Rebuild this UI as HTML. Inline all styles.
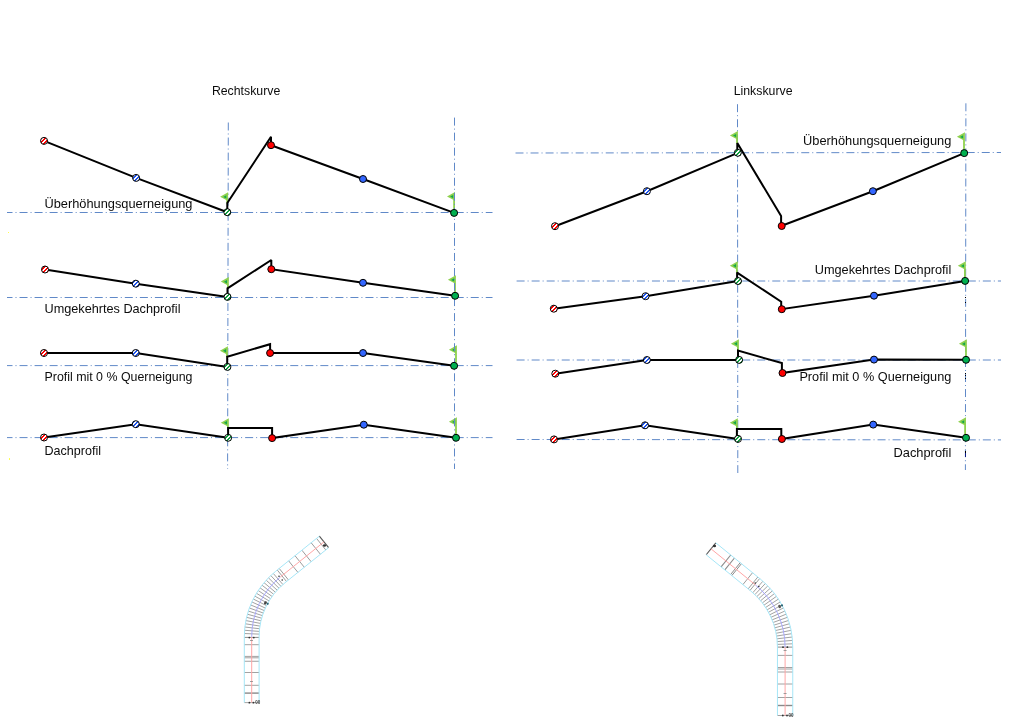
<!DOCTYPE html>
<html><head><meta charset="utf-8"><title>Querneigung</title>
<style>html,body{margin:0;padding:0;background:#fff;width:1024px;height:720px;overflow:hidden}svg{display:block;will-change:transform}</style>
</head><body>
<svg width="1024" height="720" viewBox="0 0 1024 720">
<defs>
<pattern id="str" patternUnits="userSpaceOnUse" width="4" height="4"><rect width="4" height="4" fill="#fff"/><path d="M2,0h2v1h-2z M1,1h2v1h-2z M0,2h2v1h-2z M0,3h1v1h-1z M3,3h1v1h-1z" fill="#ff0000"/></pattern>
<pattern id="stb" patternUnits="userSpaceOnUse" width="4" height="4"><rect width="4" height="4" fill="#fff"/><path d="M2,0h2v1h-2z M1,1h2v1h-2z M0,2h2v1h-2z M0,3h1v1h-1z M3,3h1v1h-1z" fill="#1f55f0"/></pattern>
<pattern id="stg" patternUnits="userSpaceOnUse" width="4" height="4"><rect width="4" height="4" fill="#fff"/><path d="M2,0h2v1h-2z M1,1h2v1h-2z M0,2h2v1h-2z M0,3h1v1h-1z M3,3h1v1h-1z" fill="#10a040"/></pattern>
</defs>
<g><line x1="244.29999999999998" y1="637.4" x2="259.09999999999997" y2="637.4" stroke="#8a8a8a" stroke-width="1"/>
<line x1="244.29999999999998" y1="644.7" x2="259.09999999999997" y2="644.7" stroke="#8a8a8a" stroke-width="0.8"/>
<line x1="244.29999999999998" y1="656.4" x2="259.09999999999997" y2="656.4" stroke="#8a8a8a" stroke-width="0.8"/>
<line x1="244.29999999999998" y1="657.8" x2="259.09999999999997" y2="657.8" stroke="#8a8a8a" stroke-width="0.8"/>
<line x1="244.29999999999998" y1="661.25" x2="259.09999999999997" y2="661.25" stroke="#8a8a8a" stroke-width="0.8"/>
<line x1="244.29999999999998" y1="672.5" x2="259.09999999999997" y2="672.5" stroke="#8a8a8a" stroke-width="0.8"/>
<line x1="244.29999999999998" y1="685.3" x2="259.09999999999997" y2="685.3" stroke="#8a8a8a" stroke-width="0.8"/>
<line x1="244.29999999999998" y1="693.1" x2="259.09999999999997" y2="693.1" stroke="#8a8a8a" stroke-width="1.4"/>
<line x1="259.15" y1="634.11" x2="244.36" y2="633.53" stroke="#8a8a8a" stroke-width="0.8"/>
<line x1="259.31" y1="631.42" x2="244.55" y2="630.27" stroke="#8a8a8a" stroke-width="0.8"/>
<line x1="259.57" y1="628.74" x2="244.87" y2="627.02" stroke="#8a8a8a" stroke-width="0.8"/>
<line x1="259.94" y1="626.07" x2="245.31" y2="623.78" stroke="#8a8a8a" stroke-width="0.8"/>
<line x1="260.40" y1="623.42" x2="245.88" y2="620.57" stroke="#8a8a8a" stroke-width="0.8"/>
<line x1="260.97" y1="620.79" x2="246.57" y2="617.37" stroke="#8a8a8a" stroke-width="0.8"/>
<line x1="261.65" y1="618.18" x2="247.39" y2="614.21" stroke="#8a8a8a" stroke-width="0.8"/>
<line x1="262.42" y1="615.61" x2="248.33" y2="611.08" stroke="#8a8a8a" stroke-width="0.8"/>
<line x1="263.29" y1="613.06" x2="249.39" y2="607.99" stroke="#8a8a8a" stroke-width="0.8"/>
<line x1="264.27" y1="610.55" x2="250.57" y2="604.94" stroke="#8a8a8a" stroke-width="0.8"/>
<line x1="265.33" y1="608.08" x2="251.86" y2="601.94" stroke="#8a8a8a" stroke-width="0.8"/>
<line x1="266.50" y1="605.65" x2="253.28" y2="599.00" stroke="#8a8a8a" stroke-width="0.8"/>
<line x1="267.75" y1="603.27" x2="254.80" y2="596.11" stroke="#8a8a8a" stroke-width="0.8"/>
<line x1="269.10" y1="600.94" x2="256.44" y2="593.28" stroke="#8a8a8a" stroke-width="0.8"/>
<line x1="270.54" y1="598.66" x2="258.18" y2="590.52" stroke="#8a8a8a" stroke-width="0.8"/>
<line x1="272.06" y1="596.44" x2="260.03" y2="587.82" stroke="#8a8a8a" stroke-width="0.8"/>
<line x1="273.67" y1="594.28" x2="261.99" y2="585.20" stroke="#8a8a8a" stroke-width="0.8"/>
<line x1="275.37" y1="592.19" x2="264.04" y2="582.66" stroke="#8a8a8a" stroke-width="0.8"/>
<line x1="277.14" y1="590.16" x2="266.19" y2="580.20" stroke="#8a8a8a" stroke-width="0.8"/>
<line x1="278.99" y1="588.21" x2="268.44" y2="577.83" stroke="#8a8a8a" stroke-width="0.8"/>
<line x1="280.91" y1="586.33" x2="270.77" y2="575.55" stroke="#8a8a8a" stroke-width="0.8"/>
<line x1="282.91" y1="584.52" x2="273.20" y2="573.35" stroke="#8a8a8a" stroke-width="0.8"/>
<line x1="277.26" y1="570.00" x2="286.54" y2="581.54" stroke="#8a8a8a" stroke-width="0.85"/>
<line x1="279.21" y1="568.44" x2="288.48" y2="579.97" stroke="#8a8a8a" stroke-width="0.85"/>
<line x1="288.64" y1="560.86" x2="297.91" y2="572.39" stroke="#8a8a8a" stroke-width="0.85"/>
<line x1="295.03" y1="555.72" x2="304.30" y2="567.25" stroke="#8a8a8a" stroke-width="0.85"/>
<line x1="301.89" y1="550.20" x2="311.16" y2="561.74" stroke="#8a8a8a" stroke-width="0.85"/>
<line x1="311.16" y1="542.75" x2="320.44" y2="554.28" stroke="#8a8a8a" stroke-width="0.85"/>
<line x1="316.54" y1="538.42" x2="325.81" y2="549.96" stroke="#8a8a8a" stroke-width="0.85"/>
<line x1="319.35" y1="536.17" x2="328.62" y2="547.70" stroke="#555" stroke-width="1.1"/>
<line x1="244.29999999999998" y1="702.6" x2="259.09999999999997" y2="702.6" stroke="#8a8a8a" stroke-width="0.8"/>
<path d="M244.30,702.6 L244.30,636.8 A84.10,84.10 0 0 1 275.70,571.26 L319.35,536.17" fill="none" stroke="#a6e6f7" stroke-width="1"/>
<path d="M259.10,702.6 L259.10,636.8 A69.30,69.30 0 0 1 284.98,582.79 L328.62,547.70" fill="none" stroke="#a6e6f7" stroke-width="1"/>
<path d="M251.7,702.6 L251.7,636.8" stroke="#ffa6a6" stroke-width="1" fill="none"/>
<path d="M251.7,636.8 A76.7,76.7 0 0 1 280.34,577.02" stroke="#a4a4ff" stroke-width="0.9" fill="none"/>
<path d="M280.34,577.02 L323.98,541.93" stroke="#ffa6a6" stroke-width="1" fill="none"/>
<line x1="777.45" y1="647.1" x2="792.75" y2="647.1" stroke="#8a8a8a" stroke-width="1"/>
<line x1="777.45" y1="655.4" x2="792.75" y2="655.4" stroke="#8a8a8a" stroke-width="0.8"/>
<line x1="777.45" y1="667.5" x2="792.75" y2="667.5" stroke="#8a8a8a" stroke-width="0.8"/>
<line x1="777.45" y1="669" x2="792.75" y2="669" stroke="#8a8a8a" stroke-width="0.8"/>
<line x1="777.45" y1="672" x2="792.75" y2="672" stroke="#8a8a8a" stroke-width="0.8"/>
<line x1="777.45" y1="684" x2="792.75" y2="684" stroke="#8a8a8a" stroke-width="0.8"/>
<line x1="777.45" y1="697.5" x2="792.75" y2="697.5" stroke="#8a8a8a" stroke-width="0.8"/>
<line x1="777.45" y1="705.5" x2="792.75" y2="705.5" stroke="#8a8a8a" stroke-width="1.4"/>
<line x1="777.40" y1="644.40" x2="792.68" y2="643.81" stroke="#8a8a8a" stroke-width="0.8"/>
<line x1="777.23" y1="641.60" x2="792.49" y2="640.42" stroke="#8a8a8a" stroke-width="0.8"/>
<line x1="776.96" y1="638.81" x2="792.16" y2="637.04" stroke="#8a8a8a" stroke-width="0.8"/>
<line x1="776.59" y1="636.04" x2="791.70" y2="633.68" stroke="#8a8a8a" stroke-width="0.8"/>
<line x1="776.10" y1="633.28" x2="791.12" y2="630.34" stroke="#8a8a8a" stroke-width="0.8"/>
<line x1="775.51" y1="630.54" x2="790.40" y2="627.02" stroke="#8a8a8a" stroke-width="0.8"/>
<line x1="774.81" y1="627.82" x2="789.56" y2="623.74" stroke="#8a8a8a" stroke-width="0.8"/>
<line x1="774.01" y1="625.14" x2="788.59" y2="620.48" stroke="#8a8a8a" stroke-width="0.8"/>
<line x1="773.11" y1="622.48" x2="787.50" y2="617.27" stroke="#8a8a8a" stroke-width="0.8"/>
<line x1="772.11" y1="619.87" x2="786.28" y2="614.11" stroke="#8a8a8a" stroke-width="0.8"/>
<line x1="771.00" y1="617.29" x2="784.94" y2="610.99" stroke="#8a8a8a" stroke-width="0.8"/>
<line x1="769.80" y1="614.76" x2="783.48" y2="607.92" stroke="#8a8a8a" stroke-width="0.8"/>
<line x1="768.49" y1="612.28" x2="781.91" y2="604.92" stroke="#8a8a8a" stroke-width="0.8"/>
<line x1="767.10" y1="609.85" x2="780.22" y2="601.98" stroke="#8a8a8a" stroke-width="0.8"/>
<line x1="765.61" y1="607.48" x2="778.41" y2="599.10" stroke="#8a8a8a" stroke-width="0.8"/>
<line x1="764.03" y1="605.16" x2="776.50" y2="596.30" stroke="#8a8a8a" stroke-width="0.8"/>
<line x1="762.36" y1="602.91" x2="774.48" y2="593.57" stroke="#8a8a8a" stroke-width="0.8"/>
<line x1="760.61" y1="600.73" x2="772.36" y2="590.93" stroke="#8a8a8a" stroke-width="0.8"/>
<line x1="758.77" y1="598.61" x2="770.14" y2="588.36" stroke="#8a8a8a" stroke-width="0.8"/>
<line x1="756.86" y1="596.57" x2="767.82" y2="585.89" stroke="#8a8a8a" stroke-width="0.8"/>
<line x1="754.86" y1="594.60" x2="765.40" y2="583.50" stroke="#8a8a8a" stroke-width="0.8"/>
<line x1="752.80" y1="592.71" x2="762.90" y2="581.21" stroke="#8a8a8a" stroke-width="0.8"/>
<line x1="759.68" y1="578.52" x2="750.03" y2="590.39" stroke="#8a8a8a" stroke-width="0.85"/>
<line x1="757.82" y1="577.01" x2="748.17" y2="588.88" stroke="#8a8a8a" stroke-width="0.85"/>
<line x1="752.54" y1="572.72" x2="742.90" y2="584.59" stroke="#8a8a8a" stroke-width="0.85"/>
<line x1="741.45" y1="563.70" x2="731.80" y2="575.57" stroke="#8a8a8a" stroke-width="1.0"/>
<line x1="740.21" y1="562.69" x2="730.56" y2="574.56" stroke="#8a8a8a" stroke-width="1.0"/>
<line x1="734.46" y1="558.02" x2="724.81" y2="569.90" stroke="#8a8a8a" stroke-width="1.1"/>
<line x1="730.74" y1="555.00" x2="721.09" y2="566.87" stroke="#8a8a8a" stroke-width="1.1"/>
<line x1="715.84" y1="542.89" x2="706.19" y2="554.76" stroke="#555" stroke-width="1.1"/>
<line x1="777.45" y1="715.5" x2="792.75" y2="715.5" stroke="#8a8a8a" stroke-width="0.8"/>
<path d="M792.75,715.5 L792.75,647.2 A87.85,87.85 0 0 0 760.30,579.02 L715.84,542.89" fill="none" stroke="#a6e6f7" stroke-width="1"/>
<path d="M777.45,715.5 L777.45,647.2 A72.55,72.55 0 0 0 750.66,590.90 L706.19,554.76" fill="none" stroke="#a6e6f7" stroke-width="1"/>
<path d="M785.1,715.5 L785.1,647.2" stroke="#ffa6a6" stroke-width="1" fill="none"/>
<path d="M785.1,647.2 A80.2,80.2 0 0 0 755.48,584.96" stroke="#a4a4ff" stroke-width="0.9" fill="none"/>
<path d="M755.48,584.96 L711.01,548.82" stroke="#ffa6a6" stroke-width="1" fill="none"/>
<circle cx="249.4" cy="702.7" r="0.9" fill="#333"/>
<circle cx="253.4" cy="702.7" r="0.9" fill="#333"/>
<text x="255.2" y="704.4" font-size="4.5" font-family="Liberation Sans, sans-serif" font-weight="bold" fill="#444" transform="rotate(0 255.2 704.4)">00</text>
<circle cx="249.3" cy="637.6" r="0.9" fill="#333"/>
<circle cx="253.8" cy="637.6" r="0.9" fill="#333"/>
<path d="M250,640.5h3M250,681.5h3" stroke="#888" stroke-width="0.8"/>
<ellipse cx="265.4" cy="602.8" rx="1.7" ry="1.3" fill="#444" transform="rotate(-60 265.4 602.8)"/><circle cx="267.7" cy="603.8" r="1.1" fill="#2c6878"/>
<circle cx="279" cy="576.2" r="0.8" fill="#333"/>
<circle cx="282.2" cy="580" r="0.8" fill="#333"/>
<ellipse cx="324.5" cy="545.5" rx="1.6" ry="1.2" fill="#333"/>
<circle cx="782.8" cy="715.5" r="0.9" fill="#333"/>
<circle cx="787" cy="715.5" r="0.9" fill="#333"/>
<text x="788.6" y="717.4" font-size="4.5" font-family="Liberation Sans, sans-serif" font-weight="bold" fill="#444" transform="rotate(0 788.6 717.4)">00</text>
<circle cx="783" cy="647.2" r="0.9" fill="#333"/>
<circle cx="787.4" cy="647.2" r="0.9" fill="#333"/>
<path d="M783.6,650.5h3M783.6,693.5h3" stroke="#888" stroke-width="0.8"/>
<ellipse cx="779.6" cy="606.5" rx="1.7" ry="1.3" fill="#555" transform="rotate(60 779.6 606.5)"/><circle cx="782" cy="605.4" r="1.1" fill="#2c6878"/>
<circle cx="755.2" cy="583" r="0.8" fill="#333"/>
<circle cx="758.8" cy="586.5" r="0.8" fill="#333"/>
<ellipse cx="714.5" cy="546" rx="1.6" ry="1.2" fill="#333"/></g>
<g><line x1="7" y1="212.5" x2="492.5" y2="212.5" stroke="#6089c8" stroke-width="1" stroke-dasharray="8 3 1 3.04" stroke-dashoffset="2.5"/>
<line x1="7" y1="297.5" x2="492.5" y2="297.5" stroke="#6089c8" stroke-width="1" stroke-dasharray="8 3 1 3.04" stroke-dashoffset="2.5"/>
<line x1="7" y1="365.6" x2="492.5" y2="365.6" stroke="#6089c8" stroke-width="1" stroke-dasharray="8 3 1 3.04" stroke-dashoffset="2.5"/>
<line x1="7" y1="437.6" x2="492.5" y2="437.6" stroke="#6089c8" stroke-width="1" stroke-dasharray="8 3 1 3.04" stroke-dashoffset="2.5"/>
<line x1="228.3" y1="122.5" x2="227.6" y2="469" stroke="#6089c8" stroke-width="1" stroke-dasharray="8 3 1 3.04" stroke-dashoffset="0"/>
<line x1="515.5" y1="153.0" x2="1001" y2="152.5" stroke="#6089c8" stroke-width="1" stroke-dasharray="8 3 1 3.04" stroke-dashoffset="0"/>
<line x1="516.6" y1="281.0" x2="1001" y2="281.0" stroke="#6089c8" stroke-width="1" stroke-dasharray="8 3 1 3.04" stroke-dashoffset="0"/>
<line x1="516.6" y1="360.0" x2="1001" y2="360.0" stroke="#6089c8" stroke-width="1" stroke-dasharray="8 3 1 3.04" stroke-dashoffset="0"/>
<line x1="516.6" y1="439.5" x2="1001" y2="439.9" stroke="#6089c8" stroke-width="1" stroke-dasharray="8 3 1 3.04" stroke-dashoffset="0"/>
<line x1="737.5" y1="104.2" x2="737.8" y2="473" stroke="#6089c8" stroke-width="1" stroke-dasharray="8 3 1 3.04" stroke-dashoffset="0"/>
<line x1="965.9" y1="103.3" x2="965.4" y2="470" stroke="#6089c8" stroke-width="1" stroke-dasharray="8 3 1 3.04" stroke-dashoffset="0"/></g>
<g><path d="M228.1,192.3 L220.1,196.8 L226.29999999999998,200.10000000000002 L226.29999999999998,203.5 L228.1,203.5 Z" fill="#8fd14f"/>
<path d="M226.29999999999998,195.20000000000002 L223.2,196.9 L226.29999999999998,198.60000000000002 Z" fill="#14a84a"/>
<path d="M455,192.0 L447,196.5 L453.2,199.8 L453.2,209.5 L455,209.5 Z" fill="#8fd14f"/>
<path d="M453.2,194.9 L450.1,196.6 L453.2,198.3 Z" fill="#14a84a"/>
<path d="M228.8,277.1 L220.8,281.6 L227.0,284.90000000000003 L227.0,288.5 L228.8,288.5 Z" fill="#8fd14f"/>
<path d="M227.0,280.0 L223.9,281.70000000000005 L227.0,283.40000000000003 Z" fill="#14a84a"/>
<path d="M455.9,275.3 L447.9,279.8 L454.09999999999997,283.1 L454.09999999999997,292.5 L455.9,292.5 Z" fill="#8fd14f"/>
<path d="M454.09999999999997,278.2 L451.0,279.90000000000003 L454.09999999999997,281.6 Z" fill="#14a84a"/>
<path d="M227.9,346.2 L219.9,350.7 L226.1,354.0 L226.1,357 L227.9,357 Z" fill="#8fd14f"/>
<path d="M226.1,349.09999999999997 L223.0,350.8 L226.1,352.5 Z" fill="#14a84a"/>
<path d="M456.9,345.3 L448.9,349.8 L455.09999999999997,353.1 L455.09999999999997,362.5 L456.9,362.5 Z" fill="#8fd14f"/>
<path d="M455.09999999999997,348.2 L452.0,349.90000000000003 L455.09999999999997,351.6 Z" fill="#14a84a"/>
<path d="M228.8,418.2 L220.8,422.7 L227.0,426.0 L227.0,428 L228.8,428 Z" fill="#8fd14f"/>
<path d="M227.0,421.09999999999997 L223.9,422.8 L227.0,424.5 Z" fill="#14a84a"/>
<path d="M456.9,417.3 L448.9,421.8 L455.09999999999997,425.1 L455.09999999999997,434.5 L456.9,434.5 Z" fill="#8fd14f"/>
<path d="M455.09999999999997,420.2 L452.0,421.90000000000003 L455.09999999999997,423.6 Z" fill="#14a84a"/>
<path d="M737.9,131.0 L729.9,135.5 L736.1,138.8 L736.1,143.5 L737.9,143.5 Z" fill="#8fd14f"/>
<path d="M736.1,133.9 L733.0,135.6 L736.1,137.3 Z" fill="#14a84a"/>
<path d="M964.9,132.3 L956.9,136.8 L963.1,140.10000000000002 L963.1,149.5 L964.9,149.5 Z" fill="#8fd14f"/>
<path d="M963.1,135.20000000000002 L960.0,136.9 L963.1,138.60000000000002 Z" fill="#14a84a"/>
<path d="M737.8,261.2 L729.8,265.7 L736.0,269.0 L736.0,273 L737.8,273 Z" fill="#8fd14f"/>
<path d="M736.0,264.09999999999997 L732.9,265.8 L736.0,267.5 Z" fill="#14a84a"/>
<path d="M965.8,261.3 L957.8,265.8 L964.0,269.1 L964.0,277.5 L965.8,277.5 Z" fill="#8fd14f"/>
<path d="M964.0,264.2 L960.9,265.90000000000003 L964.0,267.6 Z" fill="#14a84a"/>
<path d="M738.9,339.2 L730.9,343.7 L737.1,347.0 L737.1,351 L738.9,351 Z" fill="#8fd14f"/>
<path d="M737.1,342.09999999999997 L734.0,343.8 L737.1,345.5 Z" fill="#14a84a"/>
<path d="M966.9,339.3 L958.9,343.8 L965.1,347.1 L965.1,356.5 L966.9,356.5 Z" fill="#8fd14f"/>
<path d="M965.1,342.2 L962.0,343.90000000000003 L965.1,345.6 Z" fill="#14a84a"/>
<path d="M737.8,418.2 L729.8,422.7 L736.0,426.0 L736.0,429 L737.8,429 Z" fill="#8fd14f"/>
<path d="M736.0,421.09999999999997 L732.9,422.8 L736.0,424.5 Z" fill="#14a84a"/>
<path d="M966,417.3 L958,421.8 L964.2,425.1 L964.2,434.5 L966,434.5 Z" fill="#8fd14f"/>
<path d="M964.2,420.2 L961.1,421.90000000000003 L964.2,423.6 Z" fill="#14a84a"/></g>
<g><line x1="454.5" y1="117.6" x2="454.5" y2="469" stroke="#6089c8" stroke-width="1" stroke-dasharray="8 3 1 3.04" stroke-dashoffset="0"/></g>
<g><polyline points="44.05,140.9 136.1,177.9 227.3,212.2" fill="none" stroke="#000" stroke-width="2" stroke-linejoin="miter" stroke-miterlimit="2"/>
<polyline points="227.3,212.2 227.3,203 271,136.8 271,145.2 363,179 454.1,212.9" fill="none" stroke="#000" stroke-width="2" stroke-linejoin="miter" stroke-miterlimit="2"/>
<polyline points="45,269.5 135.8,283.7 227.5,296.9" fill="none" stroke="#000" stroke-width="2" stroke-linejoin="miter" stroke-miterlimit="2"/>
<polyline points="227.5,296.9 227.5,288.4 271.3,260 271.3,269.2 363,282.8 455.1,295.8" fill="none" stroke="#000" stroke-width="2" stroke-linejoin="miter" stroke-miterlimit="2"/>
<polyline points="44,353 135.8,353 227.4,366.9" fill="none" stroke="#000" stroke-width="2" stroke-linejoin="miter" stroke-miterlimit="2"/>
<polyline points="227.2,366.9 227.2,356.7 270.1,344.2 270.1,353 363,353 454.1,365.8" fill="none" stroke="#000" stroke-width="2" stroke-linejoin="miter" stroke-miterlimit="2"/>
<polyline points="44,437.5 135.8,424.2 228.1,437.8" fill="none" stroke="#000" stroke-width="2" stroke-linejoin="miter" stroke-miterlimit="2"/>
<polyline points="228.1,437.8 228.1,427.9 272.1,427.9 272.1,438.1 363.8,424.7 456,437.8" fill="none" stroke="#000" stroke-width="2" stroke-linejoin="miter" stroke-miterlimit="2"/>
<polyline points="555,226.2 646.9,191.2 737.8,152.8" fill="none" stroke="#000" stroke-width="2" stroke-linejoin="miter" stroke-miterlimit="2"/>
<polyline points="737.3,152.8 737.3,143 781.1,216 781.1,226 872.9,191.2 964.2,153.1" fill="none" stroke="#000" stroke-width="2" stroke-linejoin="miter" stroke-miterlimit="2"/>
<polyline points="553.8,308.7 645.6,296.2 738,281" fill="none" stroke="#000" stroke-width="2" stroke-linejoin="miter" stroke-miterlimit="2"/>
<polyline points="737.1,281 737.1,272.6 781.2,301.7 781.2,309.2 874,295.7 965.1,280.9" fill="none" stroke="#000" stroke-width="2" stroke-linejoin="miter" stroke-miterlimit="2"/>
<polyline points="555.3,373.7 646.9,360 739.1,359.9" fill="none" stroke="#000" stroke-width="2" stroke-linejoin="miter" stroke-miterlimit="2"/>
<polyline points="738,359.9 738,350.6 781.9,363.1 781.9,373 874,359.6 966,359.8" fill="none" stroke="#000" stroke-width="2" stroke-linejoin="miter" stroke-miterlimit="2"/>
<polyline points="554,439.4 645,425.3 738,438.9" fill="none" stroke="#000" stroke-width="2" stroke-linejoin="miter" stroke-miterlimit="2"/>
<polyline points="736.9,438.9 736.9,428.9 781.3,428.9 781.3,439 873.2,424.6 966,437.8" fill="none" stroke="#000" stroke-width="2" stroke-linejoin="miter" stroke-miterlimit="2"/>
<rect x="965" y="297" width="1" height="1" fill="#000"/>
<rect x="965" y="302" width="1" height="1" fill="#000"/>
<rect x="965" y="373" width="1" height="1" fill="#000"/>
<rect x="965" y="375" width="1" height="1" fill="#000"/>
<rect x="965" y="378" width="1" height="1" fill="#000"/>
<rect x="965" y="451" width="1" height="6" fill="#0c1c84"/>
<rect x="965" y="451" width="1" height="2" fill="#000"/>
<rect x="8" y="232" width="1" height="1" fill="#ffff50"/><rect x="9" y="458" width="1" height="2" fill="#ffff50"/></g>
<g><circle cx="44.05" cy="140.9" r="3.5" fill="url(#str)" stroke="#000" stroke-width="1"/>
<circle cx="136.1" cy="177.9" r="3.5" fill="url(#stb)" stroke="#000" stroke-width="1"/>
<circle cx="227.3" cy="212.2" r="3.5" fill="url(#stg)" stroke="#000" stroke-width="1"/>
<circle cx="271" cy="145.2" r="3.5" fill="#ff0000" stroke="#000" stroke-width="1"/>
<circle cx="363" cy="179" r="3.5" fill="#3366ff" stroke="#000" stroke-width="1"/>
<circle cx="454.1" cy="212.9" r="3.5" fill="#00b050" stroke="#000" stroke-width="1"/>
<circle cx="45" cy="269.5" r="3.5" fill="url(#str)" stroke="#000" stroke-width="1"/>
<circle cx="135.8" cy="283.7" r="3.5" fill="url(#stb)" stroke="#000" stroke-width="1"/>
<circle cx="227.5" cy="296.9" r="3.5" fill="url(#stg)" stroke="#000" stroke-width="1"/>
<circle cx="271.3" cy="269.2" r="3.5" fill="#ff0000" stroke="#000" stroke-width="1"/>
<circle cx="363" cy="282.8" r="3.5" fill="#3366ff" stroke="#000" stroke-width="1"/>
<circle cx="455.1" cy="295.8" r="3.5" fill="#00b050" stroke="#000" stroke-width="1"/>
<circle cx="44" cy="353" r="3.5" fill="url(#str)" stroke="#000" stroke-width="1"/>
<circle cx="135.8" cy="353" r="3.5" fill="url(#stb)" stroke="#000" stroke-width="1"/>
<circle cx="227.4" cy="366.9" r="3.5" fill="url(#stg)" stroke="#000" stroke-width="1"/>
<circle cx="270.1" cy="353.0" r="3.5" fill="#ff0000" stroke="#000" stroke-width="1"/>
<circle cx="363" cy="353" r="3.5" fill="#3366ff" stroke="#000" stroke-width="1"/>
<circle cx="454.1" cy="365.8" r="3.5" fill="#00b050" stroke="#000" stroke-width="1"/>
<circle cx="44" cy="437.5" r="3.5" fill="url(#str)" stroke="#000" stroke-width="1"/>
<circle cx="135.8" cy="424.2" r="3.5" fill="url(#stb)" stroke="#000" stroke-width="1"/>
<circle cx="228.1" cy="437.8" r="3.5" fill="url(#stg)" stroke="#000" stroke-width="1"/>
<circle cx="272.1" cy="438.1" r="3.5" fill="#ff0000" stroke="#000" stroke-width="1"/>
<circle cx="363.8" cy="424.7" r="3.5" fill="#3366ff" stroke="#000" stroke-width="1"/>
<circle cx="456" cy="437.8" r="3.5" fill="#00b050" stroke="#000" stroke-width="1"/>
<circle cx="555" cy="226.2" r="3.5" fill="url(#str)" stroke="#000" stroke-width="1"/>
<circle cx="646.9" cy="191.2" r="3.5" fill="url(#stb)" stroke="#000" stroke-width="1"/>
<circle cx="737.8" cy="152.8" r="3.5" fill="url(#stg)" stroke="#000" stroke-width="1"/>
<circle cx="781.7" cy="226" r="3.5" fill="#ff0000" stroke="#000" stroke-width="1"/>
<circle cx="872.9" cy="191.2" r="3.5" fill="#3366ff" stroke="#000" stroke-width="1"/>
<circle cx="964.2" cy="153.1" r="3.5" fill="#00b050" stroke="#000" stroke-width="1"/>
<circle cx="553.8" cy="308.7" r="3.5" fill="url(#str)" stroke="#000" stroke-width="1"/>
<circle cx="645.6" cy="296.2" r="3.5" fill="url(#stb)" stroke="#000" stroke-width="1"/>
<circle cx="738" cy="281" r="3.5" fill="url(#stg)" stroke="#000" stroke-width="1"/>
<circle cx="781.8000000000001" cy="309.2" r="3.5" fill="#ff0000" stroke="#000" stroke-width="1"/>
<circle cx="874" cy="295.7" r="3.5" fill="#3366ff" stroke="#000" stroke-width="1"/>
<circle cx="965.1" cy="280.9" r="3.5" fill="#00b050" stroke="#000" stroke-width="1"/>
<circle cx="555.3" cy="373.7" r="3.5" fill="url(#str)" stroke="#000" stroke-width="1"/>
<circle cx="646.9" cy="360" r="3.5" fill="url(#stb)" stroke="#000" stroke-width="1"/>
<circle cx="739.1" cy="359.9" r="3.5" fill="url(#stg)" stroke="#000" stroke-width="1"/>
<circle cx="782.5" cy="373" r="3.5" fill="#ff0000" stroke="#000" stroke-width="1"/>
<circle cx="874" cy="359.6" r="3.5" fill="#3366ff" stroke="#000" stroke-width="1"/>
<circle cx="966" cy="359.8" r="3.5" fill="#00b050" stroke="#000" stroke-width="1"/>
<circle cx="554" cy="439.4" r="3.5" fill="url(#str)" stroke="#000" stroke-width="1"/>
<circle cx="645" cy="425.3" r="3.5" fill="url(#stb)" stroke="#000" stroke-width="1"/>
<circle cx="738" cy="438.9" r="3.5" fill="url(#stg)" stroke="#000" stroke-width="1"/>
<circle cx="781.9" cy="439" r="3.5" fill="#ff0000" stroke="#000" stroke-width="1"/>
<circle cx="873.2" cy="424.6" r="3.5" fill="#3366ff" stroke="#000" stroke-width="1"/>
<circle cx="966" cy="437.8" r="3.5" fill="#00b050" stroke="#000" stroke-width="1"/></g>
<g font-family="Liberation Sans, sans-serif" fill="#0c0c0c"><text x="211.9" y="94.8" font-size="13" textLength="68.4" lengthAdjust="spacingAndGlyphs" text-anchor="start">Rechtskurve</text>
<text x="733.7" y="94.8" font-size="13" textLength="58.8" lengthAdjust="spacingAndGlyphs" text-anchor="start">Linkskurve</text>
<text x="44.5" y="208" font-size="13" textLength="148" lengthAdjust="spacingAndGlyphs" text-anchor="start">Überhöhungsquerneigung</text>
<text x="44.5" y="312.5" font-size="13" textLength="136" lengthAdjust="spacingAndGlyphs" text-anchor="start">Umgekehrtes Dachprofil</text>
<text x="44.5" y="380.7" font-size="13" textLength="148" lengthAdjust="spacingAndGlyphs" text-anchor="start">Profil mit 0 % Querneigung</text>
<text x="44.5" y="455" font-size="13" textLength="56.5" lengthAdjust="spacingAndGlyphs" text-anchor="start">Dachprofil</text>
<text x="803" y="145.3" font-size="13" textLength="148.3" lengthAdjust="spacingAndGlyphs" text-anchor="start">Überhöhungsquerneigung</text>
<text x="814.7" y="274.2" font-size="13" textLength="136.6" lengthAdjust="spacingAndGlyphs" text-anchor="start">Umgekehrtes Dachprofil</text>
<text x="799.4" y="380.7" font-size="13" textLength="151.9" lengthAdjust="spacingAndGlyphs" text-anchor="start">Profil mit 0 % Querneigung</text>
<text x="893.5" y="457" font-size="13" textLength="57.8" lengthAdjust="spacingAndGlyphs" text-anchor="start">Dachprofil</text></g>
</svg>
</body></html>
